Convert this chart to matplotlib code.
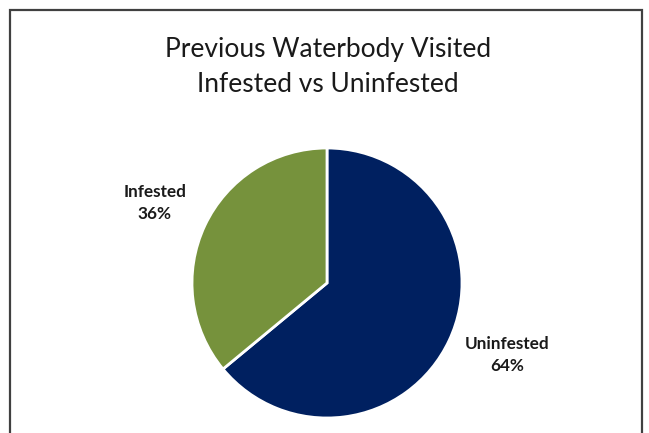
import numpy as np
import matplotlib
matplotlib.use("Agg")
import matplotlib.pyplot as plt

# data
categories = ["Uninfested", "Infested"]
shares = [64, 36]
colors = ["#002060", "#76923C"]
title = "Previous Waterbody Visited\nInfested vs Uninfested"

W, H = 649, 433
fig = plt.figure(figsize=(W / 100, H / 100), dpi=100)
fig.patch.set_facecolor("white")

# frame around the chart (bottom edge is cut off in the original)
bg = fig.add_axes([0, 0, 1, 1])
bg.set_xlim(0, W)
bg.set_ylim(H, 0)
bg.axis("off")
bg.plot([10, 10, 642, 642], [440, 10, 10, 440], color="#404040", lw=1.6,
        solid_joinstyle="miter", clip_on=False)

fig.text(328 / W, 1 - 67 / H, title, ha="center", va="center",
         fontsize=19, family="Lato", linespacing=1.55, color="#1a1a1a")

# pie centred at (327, 283) px with radius ~135 px
r = 135
cx, cy = 327, 283
pax = fig.add_axes([(cx - r) / W, 1 - (cy + r) / H, 2 * r / W, 2 * r / H])
labels = [f"{c}\n{s}%" for c, s in zip(categories, shares)]
wedges, texts = pax.pie(shares, colors=colors, startangle=90, counterclock=False,
                        labels=labels, labeldistance=1.42,
                        wedgeprops=dict(edgecolor="white", linewidth=2),
                        textprops=dict(fontsize=12.3, fontweight="bold", family="Lato",
                                       color="#1a1a1a", linespacing=1.45))
# small nudges to match the best-fit label placement
nudges = [(0.05, 0.07), (0.01, -0.01)]
for t, (dx, dy) in zip(texts, nudges):
    x, y = t.get_position()
    t.set_position((x + dx, y + dy))
    t.set_ha("center")
    t.set_va("center")
pax.set_xlim(-1, 1)
pax.set_ylim(-1, 1)
pax.set_aspect("equal")

fig.savefig("out.png", dpi=100)
